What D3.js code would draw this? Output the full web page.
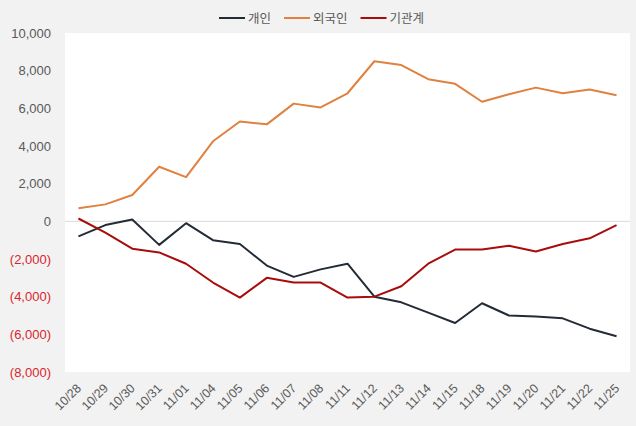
<!DOCTYPE html>
<html><head><meta charset="utf-8">
<script src="https://cdn.jsdelivr.net/npm/d3@7"></script>
<style>body{margin:0;background:#f2f2f2;}svg{display:block;font-family:"Noto Sans CJK KR","Noto Sans",sans-serif;}</style>
</head><body><svg id="c" width="636" height="426"></svg>
<script>
const dates = ["10/28","10/29","10/30","10/31","11/01","11/04","11/05","11/06","11/07","11/08","11/11","11/12","11/13","11/14","11/15","11/18","11/19","11/20","11/21","11/22","11/25"];
const individual = [-800,-200,100,-1250,-100,-1000,-1200,-2350,-2950,-2550,-2250,-4000,-4300,-4850,-5400,-4350,-5000,-5050,-5150,-5700,-6100];
const foreign = [700,900,1400,2900,2350,4250,5300,5150,6250,6050,6800,8500,8300,7550,7300,6350,6750,7100,6800,7000,6700];
const institution = [150,-600,-1450,-1650,-2250,-3250,-4050,-3000,-3250,-3250,-4050,-4000,-3450,-2250,-1500,-1500,-1300,-1600,-1200,-900,-200];
const yTicks = [10000,8000,6000,4000,2000,0,-2000,-4000,-6000,-8000];
const seriesNames = ["개인","외국인","기관계"];
const colors = ["#232b36","#e0813f","#a80c0c"];

const svg = d3.select("#c");
const L=65,R=630,T=33,B=372;
svg.append("rect").attr("x",L).attr("y",T).attr("width",R-L).attr("height",B-T).attr("fill","#fff");
const x = d3.scalePoint().domain(dates).range([L,R]).padding(0.5);
const y = d3.scaleLinear().domain([-8000,10000]).range([B,T]);

const fmt = v => v<0 ? "("+d3.format(",")(-v)+")" : d3.format(",")(v);
const yAxis = svg.append("g").attr("transform",`translate(${L},0)`)
  .call(d3.axisLeft(y).tickValues(yTicks).tickFormat(fmt).tickSize(0).tickPadding(14));
yAxis.select(".domain").remove();
yAxis.selectAll("text").attr("font-size",13).attr("fill",d=>d<0?"#d9262b":"#595959");

svg.append("line").attr("x1",L).attr("x2",R).attr("y1",y(0)).attr("y2",y(0)).attr("stroke","#d9d9d9").attr("stroke-width",1);

const xAxis = svg.append("g").attr("transform",`translate(0,${B})`)
  .call(d3.axisBottom(x).tickSize(0).tickPadding(0));
xAxis.select(".domain").remove();
xAxis.selectAll("text").attr("font-size",12.5).attr("fill","#595959")
  .attr("text-anchor","end").attr("dy","0").attr("transform","translate(3,17) rotate(-45)");

const data=[individual,foreign,institution];
const line = d3.line().x((d,i)=>x(dates[i])).y(d=>y(d));
data.forEach((s,k)=>{
  svg.append("path").attr("d",line(s)).attr("fill","none").attr("stroke",colors[k]).attr("stroke-width",2).attr("stroke-linejoin","round");
});

// legend
const lg = svg.append("g");
let lx = 219;
seriesNames.forEach((n,k)=>{
  const g = lg.append("g").attr("transform",`translate(${lx},18)`);
  g.append("line").attr("x1",0).attr("x2",26).attr("stroke",colors[k]).attr("stroke-width",2);
  const t=g.append("text").attr("x",29).attr("y",4.5).attr("font-size",12.5).attr("fill","#595959").text(n);
  lx += 29 + t.node().getComputedTextLength() + 13;
});
</script></body></html>
